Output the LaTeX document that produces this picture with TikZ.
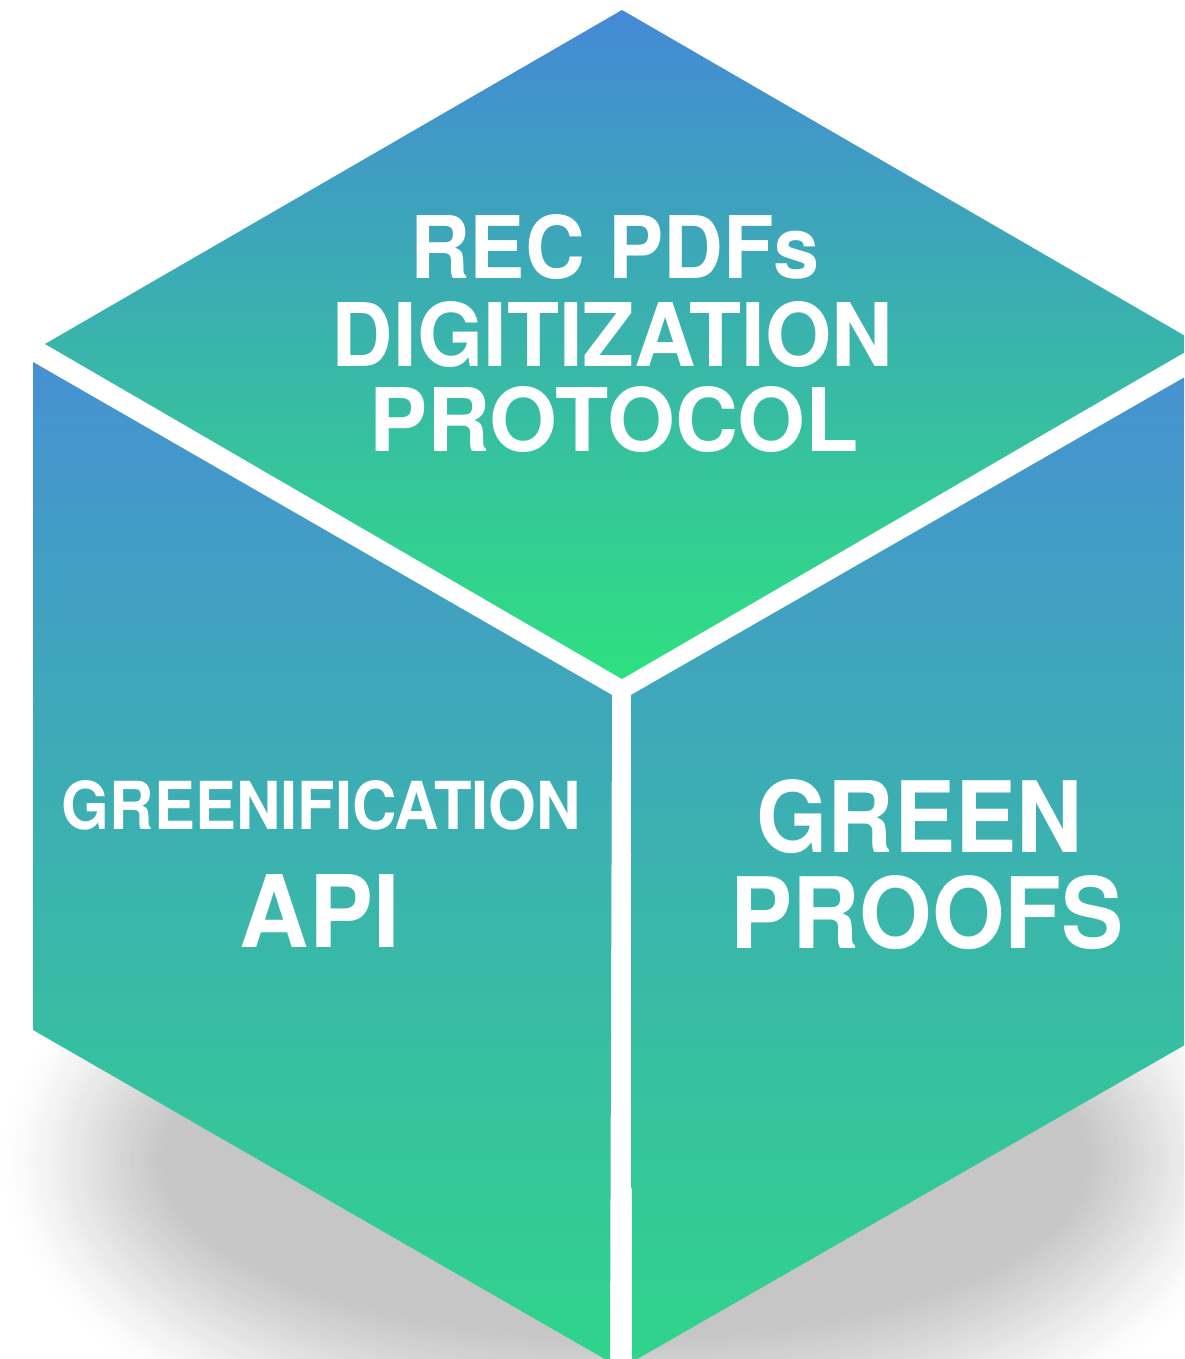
\documentclass[tikz,border=0pt]{standalone}
\usepackage{fontspec}
\setmainfont{TeX Gyre Heros}
\usepackage{graphicx}
\definecolor{shadowgray}{RGB}{198,198,198}
\definecolor{faceblue}{RGB}{68,137,214}
\definecolor{faceblueB}{RGB}{70,145,210}
\definecolor{facegreen}{RGB}{46,224,128}
\definecolor{facegreenB}{RGB}{48,212,139}
\newcommand\fitline[3]{\resizebox{#1bp}{#2bp}{\fontsize{60bp}{60bp}\selectfont\bfseries #3}}
\tikzset{
  lbl/.style={text=white, inner sep=0pt, outer sep=0pt, anchor=base},
  topface/.style={top color=faceblue, bottom color=facegreen},
  sideface/.style={top color=faceblueB, bottom color=facegreenB},
  shadowlayer/.style={fill=shadowgray, fill opacity=#1}
}
\begin{document}
\begin{tikzpicture}[x=1bp,y=-1bp]
\useasboundingbox (0,0) rectangle (1184,1359);
\clip (0,0) rectangle (1184,1359);
\fill[white] (0,0) rectangle (1184,1359);
% soft shadow: stacked translucent ellipses, denser towards the centre
\coordinate (shc) at (625,1160);
\foreach \k in {0,...,44}{
  \pgfmathsetmacro\op{0.01+0.09*(1-\k/44)}
  \path[shadowlayer=\op] (shc) ellipse [x radius={400+5*\k}, y radius={115+5*\k}];
}
% white silhouette (gaps between faces)
\fill[white] (622,10) -- (33,344) -- (33,1030) -- (621,1366) -- (1211,1030) -- (1211,344) -- cycle;
% faces
\shade[topface] (622,10) -- (45,344) -- (622,679) -- (1199,344) -- cycle;
\shade[sideface] (33,362) -- (612,695) -- (610,1362) -- (33,1030) -- cycle;
\shade[sideface] (631,695) -- (1211,362) -- (1211,1030) -- (632,1362) -- cycle;
% labels
\node[lbl] (rec)   at (615,278)   {\fitline{410}{64}{REC PDFs}};
\node[lbl] (digi)  at (612.5,366) {\fitline{561}{65}{DIGITIZATION}};
\node[lbl] (proto) at (614,451)   {\fitline{490}{65}{PROTOCOL}};
\node[lbl] (green) at (321.5,829) {\fitline{519}{49}{GREENIFICATION}};
\node[lbl] (api)   at (320,947)   {\fitline{160}{73}{API}};
\node[lbl] (gr)    at (919.5,852) {\fitline{326}{73}{GREEN}};
\node[lbl] (proof) at (927,948)   {\fitline{393}{73}{PROOFS}};
\end{tikzpicture}
\end{document}
